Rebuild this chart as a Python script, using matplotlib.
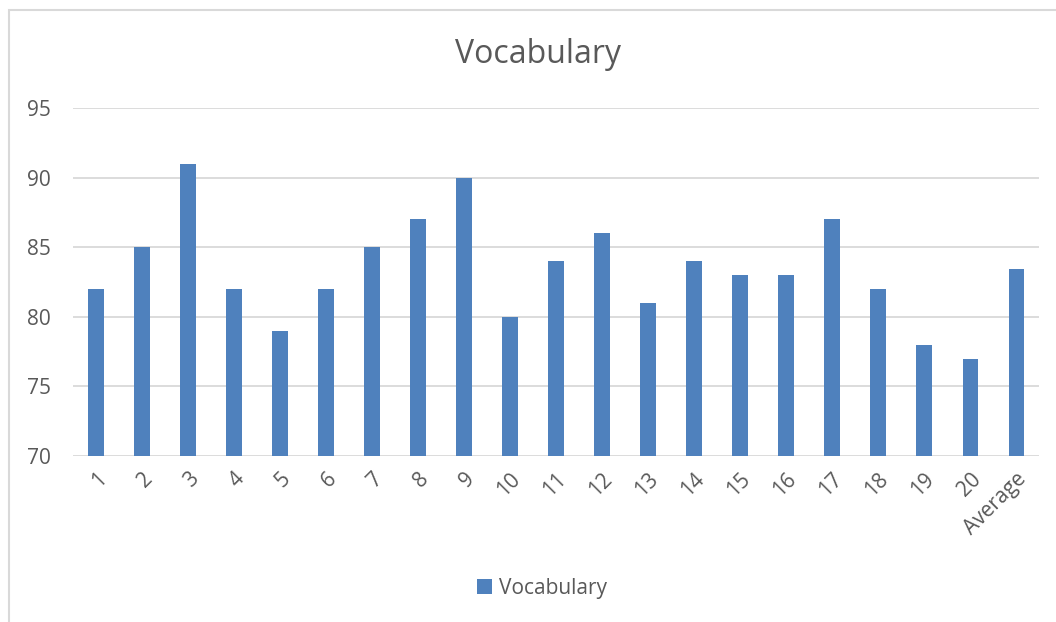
"""Vocabulary scores bar chart."""
import matplotlib
matplotlib.use("Agg")
import matplotlib.pyplot as plt
from matplotlib.patches import Rectangle

categories = [str(i) for i in range(1, 21)] + ["Average"]
scores = [82, 85, 91, 82, 79, 82, 85, 87, 90, 80,
          84, 86, 81, 84, 83, 83, 87, 82, 78, 77, 83.4]

BAR = "#4F81BD"
TEXT = "#595959"
GRID = "#D9D9D9"

plt.rcParams["font.family"] = ["Open Sans", "DejaVu Sans"]

fig = plt.figure(figsize=(10.56, 6.22), dpi=100)
ax = fig.add_axes([0.0691, 0.2669, 0.9149, 0.5595])

x = range(len(categories))
ax.bar(x, scores, width=0.33, color=BAR, label="Vocabulary", zorder=3)
ax.set_xlim(-0.5, len(categories) - 0.5)
ax.set_ylim(70, 95)
ax.set_yticks(range(70, 96, 5))
ax.yaxis.grid(True, color=GRID, linewidth=1.3, zorder=0)
for s in ax.spines.values():
    s.set_visible(False)
ax.tick_params(length=0, colors=TEXT, labelsize=15)
ax.tick_params(axis="y", pad=33)
ax.set_yticklabels([str(v) for v in range(70, 96, 5)], ha="left")
ax.set_xticks(list(x))
ax.set_xticklabels(categories, rotation=45, ha="right", va="top",
                   rotation_mode="anchor")
ax.tick_params(axis="x", pad=9)

fig.text(0.5095, 0.913, "Vocabulary", ha="center", va="center",
         fontsize=23, color=TEXT)

leg = fig.legend(loc="center", bbox_to_anchor=(0.513, 0.054), frameon=False,
                 fontsize=15, handlelength=0.75, handleheight=0.75,
                 handletextpad=0.3)
for t in leg.get_texts():
    t.set_color(TEXT)

# chart-area border (top and left visible in the reference)
fig.patches.append(Rectangle((9 / 1056, -0.1), 2.0, 1.1 - 10 / 622,
                             transform=fig.transFigure, fill=False,
                             edgecolor=GRID, linewidth=1.5))

fig.savefig("out.png", dpi=100)
